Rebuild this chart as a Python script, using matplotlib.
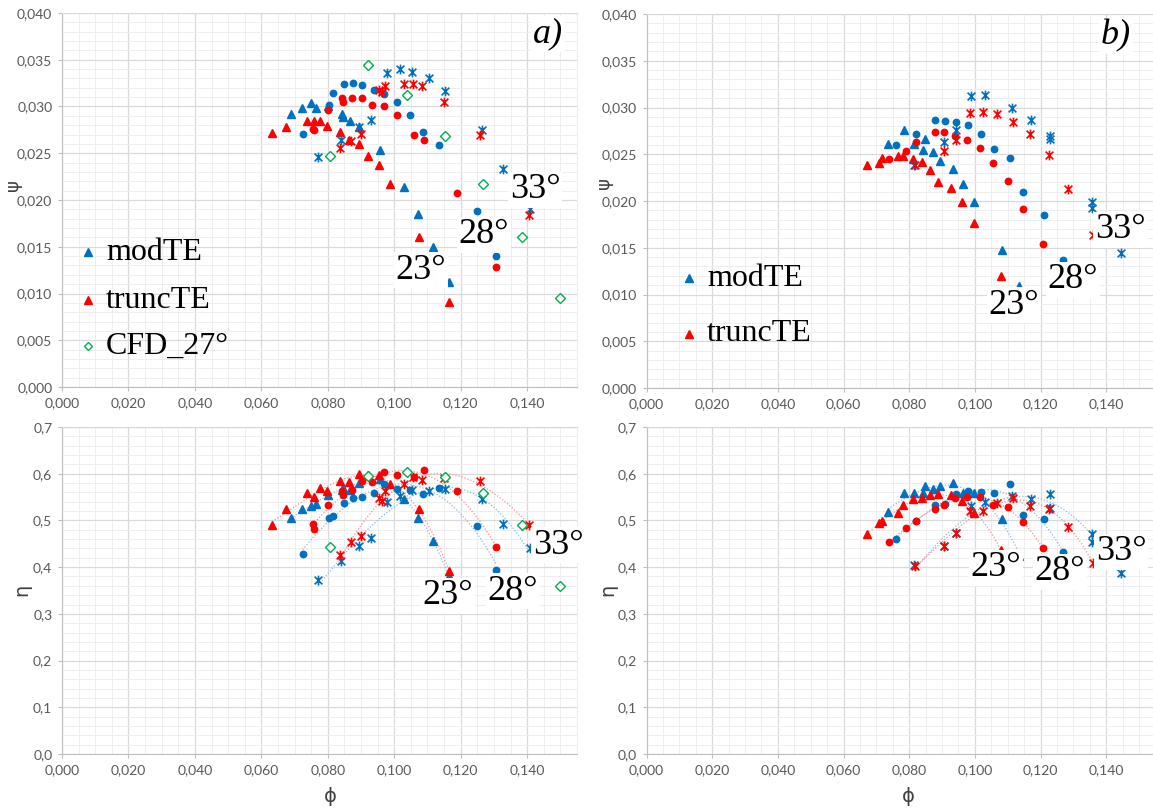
import matplotlib
matplotlib.use("Agg")
import matplotlib.pyplot as plt
import numpy as np
from matplotlib.lines import Line2D
from matplotlib.path import Path
from matplotlib.ticker import FuncFormatter, MultipleLocator

W, H = 1153, 808

# ---- panel a) : modTE / truncTE at 23, 28, 33 deg + CFD 27 deg ----
a_mod23_phi = [0.0688, 0.0723, 0.0749, 0.0764, 0.0800, 0.0843, 0.0845, 0.0867, 0.0895, 0.0956, 0.1030, 0.1070, 0.1116, 0.1166]
a_mod23_psi = [0.0292, 0.0298, 0.0304, 0.0298, 0.0300, 0.0292, 0.0289, 0.0284, 0.0278, 0.0253, 0.0214, 0.0185, 0.0150, 0.0112]
a_mod23_eta = [0.505, 0.525, 0.530, 0.535, 0.555, 0.566, 0.570, 0.566, 0.580, 0.589, 0.546, 0.505, 0.455, 0.380]

a_trunc23_phi = [0.0632, 0.0675, 0.0736, 0.0757, 0.0777, 0.0799, 0.0837, 0.0865, 0.0893, 0.0922, 0.0955, 0.0988, 0.1073, 0.1165]
a_trunc23_psi = [0.0272, 0.0278, 0.0285, 0.0284, 0.0284, 0.0279, 0.0273, 0.0264, 0.0260, 0.0247, 0.0237, 0.0217, 0.0160, 0.0091]
a_trunc23_eta = [0.491, 0.524, 0.559, 0.550, 0.569, 0.564, 0.585, 0.582, 0.600, 0.598, 0.598, 0.579, 0.525, 0.391]

a_mod28_phi = [0.0724, 0.0804, 0.0816, 0.0850, 0.0877, 0.0904, 0.0938, 0.0969, 0.1007, 0.1048, 0.1088, 0.1136, 0.1248, 0.1307]
a_mod28_psi = [0.0271, 0.0302, 0.0314, 0.0324, 0.0325, 0.0323, 0.0318, 0.0313, 0.0305, 0.0291, 0.0273, 0.0259, 0.0188, 0.0140]
a_mod28_eta = [0.429, 0.505, 0.509, 0.537, 0.548, 0.550, 0.559, 0.577, 0.567, 0.566, 0.557, 0.570, 0.489, 0.394]

a_trunc28_phi = [0.0755, 0.0758, 0.0801, 0.0844, 0.0845, 0.0872, 0.0902, 0.0932, 0.0969, 0.1008, 0.1058, 0.1090, 0.1188, 0.1305]
a_trunc28_psi = [0.0276, 0.0275, 0.0296, 0.0309, 0.0305, 0.0309, 0.0309, 0.0302, 0.0300, 0.0291, 0.0270, 0.0264, 0.0208, 0.0128]
a_trunc28_eta = [0.492, 0.482, 0.534, 0.562, 0.555, 0.565, 0.584, 0.582, 0.603, 0.598, 0.594, 0.609, 0.562, 0.443]

a_mod33_phi = [0.0771, 0.0839, 0.0895, 0.0931, 0.0979, 0.1016, 0.1053, 0.1104, 0.1152, 0.1265, 0.1328, 0.1408]
a_mod33_psi = [0.0246, 0.0264, 0.0278, 0.0286, 0.0336, 0.0340, 0.0337, 0.0331, 0.0317, 0.0275, 0.0233, 0.0190]
a_mod33_eta = [0.372, 0.414, 0.445, 0.462, 0.539, 0.552, 0.566, 0.562, 0.567, 0.546, 0.492, 0.440]

a_trunc33_phi = [0.0837, 0.0870, 0.0899, 0.0954, 0.0962, 0.0973, 0.1030, 0.1056, 0.1084, 0.1150, 0.1258, 0.1406]
a_trunc33_psi = [0.0256, 0.0263, 0.0271, 0.0318, 0.0316, 0.0322, 0.0324, 0.0324, 0.0322, 0.0305, 0.0269, 0.0184]
a_trunc33_eta = [0.426, 0.454, 0.467, 0.549, 0.541, 0.562, 0.579, 0.592, 0.587, 0.590, 0.585, 0.490]

a_cfd_phi = [0.0806, 0.0922, 0.1037, 0.1152, 0.1266, 0.1383, 0.1498]
a_cfd_psi = [0.0247, 0.0344, 0.0312, 0.0268, 0.0217, 0.0160, 0.0095]
a_cfd_eta = [0.443, 0.595, 0.603, 0.592, 0.559, 0.490, 0.360]

# ---- panel b) ----
b_mod23_phi = [0.0735, 0.0785, 0.0815, 0.0843, 0.0848, 0.0871, 0.0895, 0.0932, 0.0963, 0.0998, 0.1084, 0.1135]
b_mod23_psi = [0.0261, 0.0276, 0.0261, 0.0255, 0.0266, 0.0252, 0.0243, 0.0234, 0.0218, 0.0199, 0.0148, 0.0109]
b_mod23_eta = [0.518, 0.559, 0.559, 0.559, 0.573, 0.567, 0.573, 0.580, 0.559, 0.559, 0.503, 0.424]

b_trunc23_phi = [0.0671, 0.0707, 0.0717, 0.0767, 0.0781, 0.0813, 0.0840, 0.0864, 0.0889, 0.0927, 0.0960, 0.0996, 0.1080]
b_trunc23_psi = [0.0238, 0.0241, 0.0246, 0.0248, 0.0248, 0.0245, 0.0242, 0.0233, 0.0220, 0.0214, 0.0199, 0.0176, 0.0120]
b_trunc23_eta = [0.471, 0.495, 0.499, 0.516, 0.532, 0.545, 0.548, 0.555, 0.556, 0.554, 0.542, 0.515, 0.437]

b_mod28_phi = [0.0760, 0.0820, 0.0880, 0.0910, 0.0943, 0.0979, 0.1020, 0.1059, 0.1108, 0.1148, 0.1210, 0.1268]
b_mod28_psi = [0.0260, 0.0272, 0.0287, 0.0286, 0.0284, 0.0281, 0.0272, 0.0256, 0.0246, 0.0210, 0.0185, 0.0137]
b_mod28_eta = [0.461, 0.499, 0.532, 0.536, 0.557, 0.562, 0.561, 0.559, 0.578, 0.511, 0.503, 0.432]

b_trunc28_phi = [0.0739, 0.0790, 0.0820, 0.0880, 0.0905, 0.0940, 0.0977, 0.1017, 0.1055, 0.1102, 0.1148, 0.1206]
b_trunc28_psi = [0.0245, 0.0254, 0.0263, 0.0274, 0.0274, 0.0270, 0.0265, 0.0257, 0.0241, 0.0221, 0.0191, 0.0154]
b_trunc28_eta = [0.454, 0.484, 0.499, 0.525, 0.534, 0.547, 0.550, 0.550, 0.534, 0.528, 0.496, 0.441]

b_mod33_phi = [0.0816, 0.0906, 0.0941, 0.0988, 0.1032, 0.1114, 0.1170, 0.1228, 0.1228, 0.1357, 0.1357, 0.1444]
b_mod33_psi = [0.0239, 0.0263, 0.0276, 0.0312, 0.0313, 0.0299, 0.0287, 0.0269, 0.0266, 0.0199, 0.0193, 0.0144]
b_mod33_eta = [0.405, 0.445, 0.473, 0.530, 0.540, 0.552, 0.546, 0.557, 0.527, 0.471, 0.453, 0.387]

b_trunc33_phi = [0.0818, 0.0906, 0.0943, 0.0985, 0.1025, 0.1066, 0.1115, 0.1168, 0.1227, 0.1285, 0.1360]
b_trunc33_psi = [0.0239, 0.0253, 0.0265, 0.0294, 0.0295, 0.0293, 0.0284, 0.0272, 0.0249, 0.0213, 0.0164]
b_trunc33_eta = [0.403, 0.445, 0.473, 0.520, 0.521, 0.537, 0.548, 0.530, 0.525, 0.487, 0.409]

BLUE = "#0070c0"
RED = "#ff0000"
GREEN = "#00b050"
BLUE_TREND = "#8db9e2"
RED_TREND = "#ff8c8c"
SERIF = "Liberation Serif"

# Excel style asterisk: an X with a vertical stroke
star = Path([(-1, -1), (1, 1), (-1, 1), (1, -1), (0, -1.25), (0, 1.25)],
            [Path.MOVETO, Path.LINETO, Path.MOVETO, Path.LINETO, Path.MOVETO, Path.LINETO])

mk = {
    23: dict(marker="^", ms=6.2),
    28: dict(marker="o", ms=4.6),
    33: dict(marker=star, ms=7.0, mew=1.2),
}

fig = plt.figure(figsize=(W / 100, H / 100), dpi=100)


def px_axes(x0, y0, x1, y1):
    return fig.add_axes([x0 / W, 1 - y1 / H, (x1 - x0) / W, (y1 - y0) / H])


def ftext(x, y, s, **kw):
    fig.text(x / W, 1 - y / H, s, **kw)


def style(ax, ymax, ymaj, ymin, ydec):
    ax.set_xlim(0, 0.155)
    ax.set_ylim(0, ymax)
    ax.xaxis.set_major_locator(MultipleLocator(0.02))
    ax.xaxis.set_minor_locator(MultipleLocator(0.005))
    ax.yaxis.set_major_locator(MultipleLocator(ymaj))
    ax.yaxis.set_minor_locator(MultipleLocator(ymin))
    ax.xaxis.set_major_formatter(FuncFormatter(lambda v, p: f"{v:.3f}".replace(".", ",")))
    ax.yaxis.set_major_formatter(FuncFormatter(lambda v, p: f"{v:.{ydec}f}".replace(".", ",")))
    ax.grid(which="major", color="#d9d9d9", lw=0.9)
    ax.grid(which="minor", color="#eeeeee", lw=0.7)
    ax.set_axisbelow(True)
    ax.spines["top"].set_color("#d9d9d9")
    ax.spines["right"].set_color("#eeeeee")
    ax.spines["left"].set_color("#bfbfbf")
    ax.spines["bottom"].set_color("#bfbfbf")
    ax.tick_params(which="major", length=3, color="#bfbfbf", labelsize=10,
                   labelcolor="#595959", pad=4)
    ax.tick_params(which="minor", length=0)
    for lab in ax.get_xticklabels() + ax.get_yticklabels():
        lab.set_fontfamily("Lato")


def points(ax, phi, val, color, angle):
    ax.plot(phi, val, ls="none", color=color, mec=color, mfc=color, zorder=3, **mk[angle])


def trend(ax, phi, val, color):
    c = np.polyfit(phi, val, 3)
    xs = np.linspace(min(phi), max(phi), 100)
    ax.plot(xs, np.polyval(c, xs), ls=(0, (1, 1.5)), lw=0.9, color=color, zorder=2)


ax_a1 = px_axes(62, 13, 577, 387)
ax_a2 = px_axes(62, 427, 577, 754)
ax_b1 = px_axes(646.5, 14, 1155.5, 388)
ax_b2 = px_axes(646.5, 427, 1155.5, 754)

for ax in (ax_a1, ax_b1):
    style(ax, 0.04, 0.005, 0.001, 3)
for ax in (ax_a2, ax_b2):
    style(ax, 0.7, 0.1, 0.02, 1)

series_a = [
    (a_mod23_phi, a_mod23_psi, a_mod23_eta, BLUE, BLUE_TREND, 23),
    (a_trunc23_phi, a_trunc23_psi, a_trunc23_eta, RED, RED_TREND, 23),
    (a_mod28_phi, a_mod28_psi, a_mod28_eta, BLUE, BLUE_TREND, 28),
    (a_trunc28_phi, a_trunc28_psi, a_trunc28_eta, RED, RED_TREND, 28),
    (a_mod33_phi, a_mod33_psi, a_mod33_eta, BLUE, BLUE_TREND, 33),
    (a_trunc33_phi, a_trunc33_psi, a_trunc33_eta, RED, RED_TREND, 33),
]
series_b = [
    (b_mod23_phi, b_mod23_psi, b_mod23_eta, BLUE, BLUE_TREND, 23),
    (b_trunc23_phi, b_trunc23_psi, b_trunc23_eta, RED, RED_TREND, 23),
    (b_mod28_phi, b_mod28_psi, b_mod28_eta, BLUE, BLUE_TREND, 28),
    (b_trunc28_phi, b_trunc28_psi, b_trunc28_eta, RED, RED_TREND, 28),
    (b_mod33_phi, b_mod33_psi, b_mod33_eta, BLUE, BLUE_TREND, 33),
    (b_trunc33_phi, b_trunc33_psi, b_trunc33_eta, RED, RED_TREND, 33),
]

for top, bot, series in ((ax_a1, ax_a2, series_a), (ax_b1, ax_b2, series_b)):
    for phi, psi, eta, col, tcol, ang in series:
        trend(bot, phi, eta, tcol)
    for phi, psi, eta, col, tcol, ang in series:
        points(top, phi, psi, col, ang)
        points(bot, phi, eta, col, ang)

for ax, val in ((ax_a1, a_cfd_psi), (ax_a2, a_cfd_eta)):
    ax.plot(a_cfd_phi, val, ls="none", marker="D", ms=4.6, mfc="white", mec=GREEN, mew=1.0, zorder=4)

# axis titles
ftext(13, 185, "ψ", fontsize=13, rotation=90, ha="center", va="center", color="#404040")
ftext(22, 590, "η", fontsize=14, rotation=90, ha="center", va="center", color="#404040")
ftext(330, 797, "ϕ", fontsize=14, ha="center", va="center", color="#404040")
ftext(604, 183, "ψ", fontsize=13, rotation=90, ha="center", va="center", color="#404040")
ftext(608, 590, "η", fontsize=14, rotation=90, ha="center", va="center", color="#404040")
ftext(908, 797, "ϕ", fontsize=14, ha="center", va="center", color="#404040")

# angle labels
box = dict(facecolor="white", edgecolor="none", pad=1.0)
angle_labels = [
    (535, 190, "33°"), (484, 235, "28°"), (421, 270, "23°"),
    (558, 545, "33°"), (513, 591, "28°"), (448, 596, "23°"),
    (1120, 230, "33°"), (1073, 280, "28°"), (1014, 305, "23°"),
    (1121, 552, "33°"), (1060, 572, "28°"), (996, 568, "23°"),
]
for x, y, s in angle_labels:
    ftext(x, y, s, fontsize=26, family=SERIF, ha="center", va="center", bbox=box, zorder=5)

ftext(548, 34, "a)", fontsize=26, family=SERIF, style="italic", ha="center", va="center", bbox=box)
ftext(1116, 36, "b)", fontsize=26, family=SERIF, style="italic", ha="center", va="center", bbox=box)

# legends
def legend_entry(x, y, text, **mkw):
    fig.add_artist(Line2D([x / W], [1 - y / H], transform=fig.transFigure, ls="none", **mkw))
    ftext(x + 18, y, text, fontsize=23, family=SERIF, ha="left", va="center")


legend_entry(88, 252, "modTE", marker="^", ms=5.5, color=BLUE)
legend_entry(88, 300, "truncTE", marker="^", ms=5.5, color=RED)
legend_entry(88, 346, "CFD_27°", marker="D", ms=4.3, mfc="white", mec=GREEN, mew=1.0)
legend_entry(689, 278, "modTE", marker="^", ms=5.5, color=BLUE)
legend_entry(689, 334, "truncTE", marker="^", ms=5.5, color=RED)

fig.savefig("out.png", dpi=100)
